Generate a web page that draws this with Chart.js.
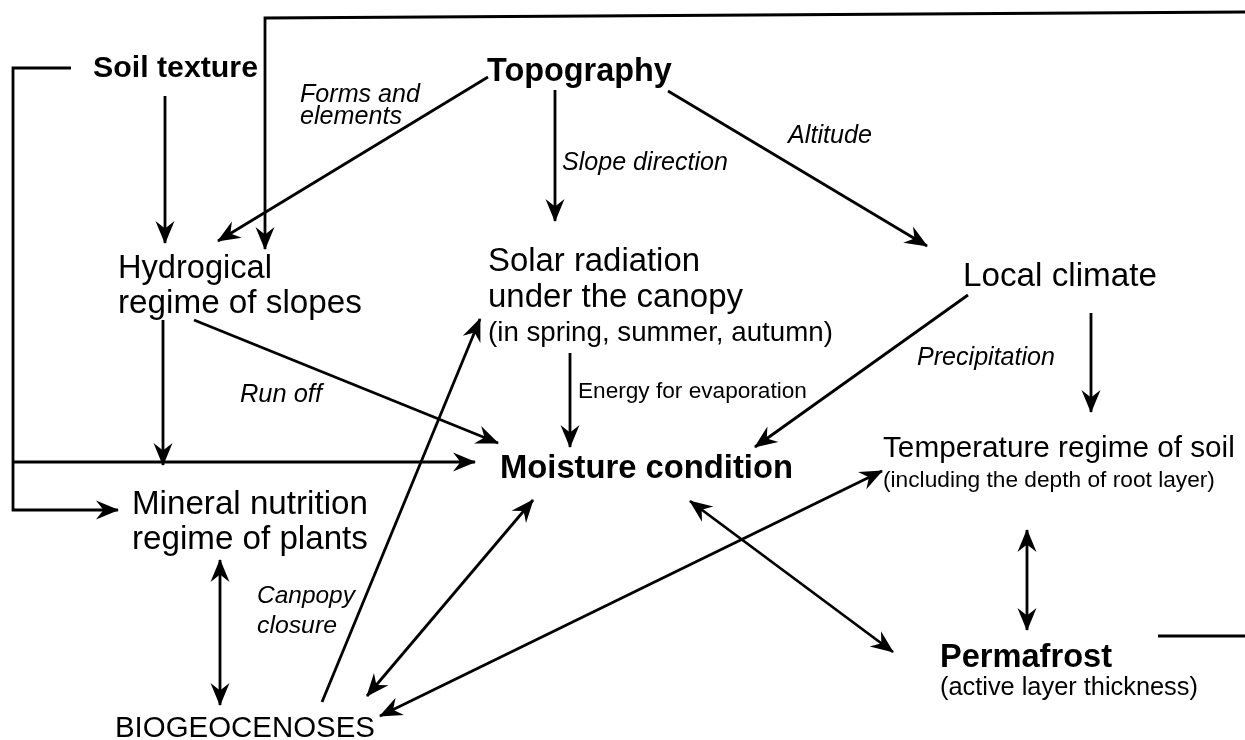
<!DOCTYPE html>
<html>
<head>
<meta charset="utf-8">
<title>Moisture condition diagram</title>
<script src="https://cdn.jsdelivr.net/npm/chart.js@4/dist/chart.umd.min.js"></script>
<style>
    html, body { margin: 0; padding: 0; background: #fff; }
    #diagram { display: block; }
</style>
</head>
<body>
<canvas id="diagram" width="1245" height="740"></canvas>
<script>
// Labels of the diagram (text + where they sit in the 1245 x 740 data space)
const labelText = [
    'Soil texture', 'Topography', 'Forms and', 'elements', 'Slope direction', 'Altitude',
    'Hydrogical', 'regime of slopes',
    'Solar radiation', 'under the canopy', '(in spring, summer, autumn)',
    'Local climate', 'Energy for evaporation', 'Run off', 'Precipitation',
    'Moisture condition', 'Temperature regime of soil', '(including the depth of root layer)',
    'Mineral nutrition', 'regime of plants', 'Canpopy', 'closure',
    'Permafrost', '(active layer thickness)', 'BIOGEOCENOSES'
];
const labelLeft  = [93, 487, 300, 300, 562, 788, 118, 118, 488, 488, 488, 963, 578, 240, 917, 500, 883, 883, 132, 132, 257, 257, 940, 940, 115];
const labelRight = [258, 672, 420, 402, 728, 872, 272, 362, 700, 743, 833, 1157, 807, 322, 1055, 793, 1235, 1215, 368, 368, 355, 337, 1112, 1198, 375];
const labelBase  = [77, 81, 102, 124, 170, 143, 278, 313, 271, 307, 341, 286, 398, 402, 365, 478, 457, 487, 514, 549, 603, 633, 667, 695, 737];
const labelKind  = ['b', 'b', 'i', 'i', 'i', 'i', 'r', 'r', 'r', 'r', 'r', 'r', 'r', 'i', 'i', 'b', 'r', 'r', 'r', 'r', 'i', 'i', 'b', 'r', 'r'];

// Connections: polylines in data space, and which ends get a head
const arrowPaths = [
    [[1245, 12], [265, 18], [265, 249]],            // frame from the right into hydrological regime
    [[71, 68], [13, 68], [13, 510], [118, 510]],    // soil texture -> mineral nutrition
    [[13, 462], [475, 462]],                        // soil texture -> moisture condition
    [[165, 96], [165, 243]],                        // soil texture -> hydrological
    [[488, 77], [218, 241]],                        // topography -> hydrological
    [[555, 90], [555, 221]],                        // topography -> solar radiation
    [[668, 91], [927, 246]],                        // topography -> local climate
    [[163, 320], [163, 465]],                       // hydrological -> mineral
    [[194, 320], [498, 443]],                       // run off
    [[570, 353], [570, 447]],                       // energy for evaporation
    [[968, 295], [755, 447]],                       // precipitation
    [[1091, 313], [1091, 412]],                     // local climate -> temperature
    [[322, 702], [480, 319]],                       // canopy closure -> solar radiation
    [[220, 560], [220, 705]],                       // mineral <-> biogeocenoses
    [[533, 500], [367, 696]],                       // moisture <-> biogeocenoses
    [[882, 471], [380, 716]],                       // temperature <-> biogeocenoses
    [[690, 501], [893, 652]],                       // moisture <-> permafrost
    [[1027, 530], [1027, 630]],                     // temperature <-> permafrost
    [[1158, 636], [1245, 636]]                      // stub on the right
];
const arrowHeads = ['end', 'end', 'end', 'end', 'end', 'end', 'end', 'end', 'end', 'end', 'end', 'end', 'end',
    'both', 'both', 'both', 'both', 'both', 'none'];

const FONT = '"Liberation Sans", Arial, Helvetica, sans-serif';

function drawHead(ctx, fx, fy, tx, ty) {
    let ang = Math.atan2(ty - fy, tx - fx);
    let L = 22, W = 9.5;
    ctx.save();
    ctx.translate(tx, ty);
    ctx.rotate(ang);
    ctx.beginPath();
    ctx.moveTo(1, 0);
    ctx.lineTo(-L, W);
    ctx.lineTo(-L * 0.66, 0);
    ctx.lineTo(-L, -W);
    ctx.closePath();
    ctx.fillStyle = '#000';
    ctx.fill();
    ctx.restore();
}

const diagramPlugin = {
    id: 'diagram',
    afterDatasetsDraw(chart) {
        const ctx = chart.ctx;
        const xs = chart.scales.x, ys = chart.scales.y;

        // arrow heads
        chart.data.datasets.forEach((ds, i) => {
            let pts = chart.getDatasetMeta(i).data;
            let head = arrowHeads[i];
            let n = pts.length;
            if (head === 'end' || head === 'both') {
                drawHead(ctx, pts[n - 2].x, pts[n - 2].y, pts[n - 1].x, pts[n - 1].y);
            }
            if (head === 'both') {
                drawHead(ctx, pts[1].x, pts[1].y, pts[0].x, pts[0].y);
            }
        });

        // labels, scaled to the width they take in the figure
        ctx.save();
        ctx.fillStyle = '#000';
        ctx.textBaseline = 'alphabetic';
        ctx.textAlign = 'left';
        labelText.forEach((txt, i) => {
            let style = labelKind[i] === 'b' ? 'bold' : (labelKind[i] === 'i' ? 'italic' : 'normal');
            ctx.font = style + ' 100px ' + FONT;
            let x0 = xs.getPixelForValue(labelLeft[i]);
            let x1 = xs.getPixelForValue(labelRight[i]);
            let size = 100 * (x1 - x0) / ctx.measureText(txt).width;
            ctx.font = style + ' ' + size.toFixed(2) + 'px ' + FONT;
            ctx.fillText(txt, x0, ys.getPixelForValue(labelBase[i]));
        });
        ctx.restore();
    }
};

const datasets = arrowPaths.map(path => ({
    data: path.map(p => ({x: p[0], y: p[1]})),
    showLine: true,
    borderColor: '#000',
    borderWidth: 2.8,
    pointRadius: 0,
    pointHoverRadius: 0,
    fill: false,
    tension: 0
}));

new Chart(document.getElementById('diagram'), {
    type: 'scatter',
    data: {datasets: datasets},
    options: {
        responsive: false,
        animation: false,
        events: [],
        layout: {padding: 0},
        plugins: {
            legend: {display: false},
            tooltip: {enabled: false}
        },
        scales: {
            x: {type: 'linear', min: 0, max: 1245, display: false},
            y: {type: 'linear', min: 0, max: 740, reverse: true, display: false}
        }
    },
    plugins: [diagramPlugin]
});
</script>
</body>
</html>
